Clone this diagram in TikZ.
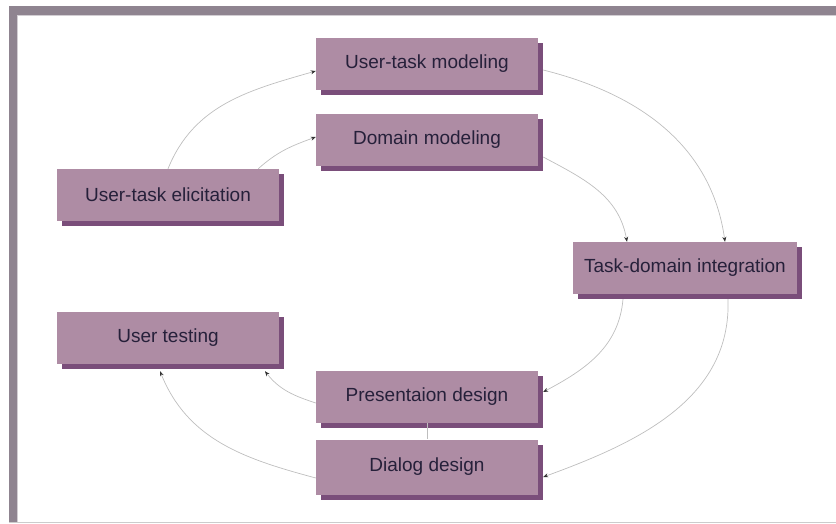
\documentclass[tikz,border=0pt]{standalone}
\usepackage{fontspec}
\setmainfont{Liberation Sans}
\usetikzlibrary{arrows.meta,shadows}

\definecolor{boxfill}{RGB}{174,140,164}
\definecolor{boxshade}{RGB}{122,78,122}
\definecolor{boxtext}{RGB}{38,32,58}
\definecolor{framec}{RGB}{143,132,144}
\definecolor{linkc}{RGB}{190,190,190}

\tikzset{
  stage/.style = {fill=boxfill, text=boxtext, minimum width=222pt, minimum height=52pt,
    inner sep=0pt, font=\fontsize{19}{22}\selectfont,
    general shadow={fill=boxshade, shadow xshift=5pt, shadow yshift=-5pt}},
  link/.style = {draw=linkc, line width=0.7pt, -{Stealth[length=5pt,width=4pt,color=black!80]}}
}

\begin{document}
\begin{tikzpicture}[x=1pt,y=1pt]
\useasboundingbox (0,0) rectangle (836,-524);
\fill[framec] (9,-6) rectangle (836,-15);
\fill[framec] (9,-6) rectangle (17,-522);
\draw[framec!40, line width=1pt] (17.5,-15.5) -- (836,-15.5);
\draw[framec!40, line width=1pt] (17.5,-15.5) -- (17.5,-522);
\draw[black!20, line width=1.5pt] (9,-522.5) -- (836,-522.5);

\node[stage] (utm) at (427,-64) {User-task modeling};
\node[stage] (dm) at (427,-140) {Domain modeling};
\node[stage] (ute) at (168,-195) {User-task elicitation};
\node[stage, minimum width=224pt] (tdi) at (685,-268) {Task-domain integration};
\node[stage] (ut) at (168,-338) {User testing};
\node[stage] (pd) at (427,-397) {Presentaion design};
\node[stage, minimum height=55pt] (dd) at (427,-467) {Dialog design};

\draw[link] (ute.north) to[out=68,in=196] ([yshift=-7pt]utm.west);
\draw[link] ([xshift=-21pt]ute.north east) to[out=42,in=200] ([yshift=3pt]dm.west);
\draw[link] ([xshift=5pt,yshift=-6pt]utm.east) to[out=-14,in=98] ([xshift=40pt]tdi.north);
\draw[link] ([xshift=5pt,yshift=-17pt]dm.east) to[out=-28,in=100] ([xshift=-58pt]tdi.north);
\draw[link] ([xshift=-62pt,yshift=-5pt]tdi.south) to[out=-95,in=28] ([xshift=5pt,yshift=5pt]pd.east);
\draw[link] ([xshift=43pt,yshift=-5pt]tdi.south) to[out=-88,in=20] ([xshift=5pt,yshift=-10pt]dd.east);
\draw[link] ([yshift=-6pt]pd.west) to[out=162,in=-52] ([xshift=97pt,yshift=-7pt]ut.south);
\draw[link] ([yshift=-11pt]dd.west) to[out=165,in=-68] ([xshift=-8pt,yshift=-7pt]ut.south);
\draw[linkc, line width=0.7pt] (pd.south) -- (dd.north);
\end{tikzpicture}
\end{document}
